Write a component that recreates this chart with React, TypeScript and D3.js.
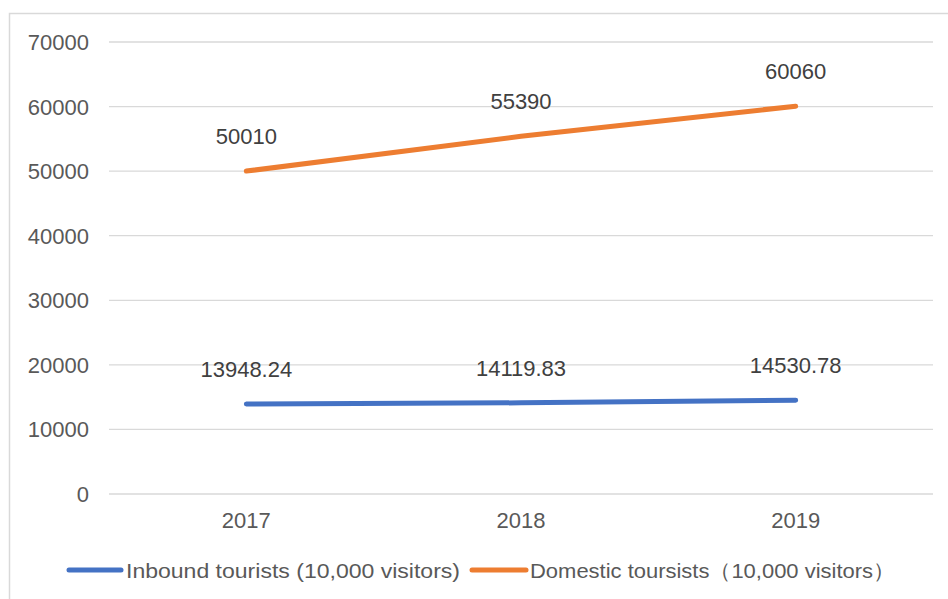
import * as d3 from "d3";
import React from "react";

const years: string[] = ["2017", "2018", "2019"];
const inbound: number[] = [13948.24, 14119.83, 14530.78];
const domestic: number[] = [50010, 55390, 60060];
const yTicks: number[] = [0, 10000, 20000, 30000, 40000, 50000, 60000, 70000];
const seriesNames: string[] = [
	"Inbound tourists (10,000 visitors)",
	"Domestic toursists（10,000 visitors）",
];
const colors: string[] = ["#4472C4", "#ED7D31"];

const App = () => {
	const width: number = 948;
	const height: number = 599;
	const left: number = 109;
	const right: number = 933;
	const top: number = 42;
	const bottom: number = 494;
	const font = "'Liberation Sans', Arial, sans-serif";
	const textColor = "#595959";

	const xScale = d3.scaleBand().domain(years).range([left, right]);
	const yScale = d3.scaleLinear().domain([0, 70000]).range([bottom, top]);
	const cx = (y: string) => (xScale(y) || 0) + xScale.bandwidth() / 2;

	const line = d3
		.line<number>()
		.x((d, i) => cx(years[i]))
		.y((d) => yScale(d));

	const series = [inbound, domestic];

	return (
		<svg
			width={width}
			height={height}
			style={{ position: "absolute", left: 0, top: 0, background: "#fff" }}
			fontFamily={font}
		>
			<rect x={9.5} y={13.5} width={960} height={600} fill="#fff" stroke="#d9d9d9" strokeWidth={1.5} />
			{yTicks.map((t) => (
				<g key={t}>
					<line x1={left} x2={right} y1={yScale(t)} y2={yScale(t)} stroke="#d9d9d9" strokeWidth={1.3} />
					<text x={89} y={yScale(t) + 8} textAnchor="end" fontSize={22} fill={textColor}>
						{t}
					</text>
				</g>
			))}
			{years.map((y) => (
				<text key={y} x={cx(y)} y={528} textAnchor="middle" fontSize={22} fill={textColor}>
					{y}
				</text>
			))}
			{series.map((s, k) => (
				<g key={k}>
					<path d={line(s) || ""} fill="none" stroke={colors[k]} strokeWidth={5} strokeLinecap="round" />
					{s.map((v, i) => (
						<text key={i} x={cx(years[i])} y={yScale(v) - 27} textAnchor="middle" fontSize={22} fill="#404040">
							{v}
						</text>
					))}
				</g>
			))}
			<g>
				<line x1={69} x2={121} y1={570} y2={570} stroke={colors[0]} strokeWidth={5} strokeLinecap="round" />
				<text x={126} y={578} fontSize={21} fill={textColor} textLength={334} lengthAdjust="spacingAndGlyphs">
					{seriesNames[0]}
				</text>
				<line x1={472} x2={526} y1={570} y2={570} stroke={colors[1]} strokeWidth={5} strokeLinecap="round" />
				<text x={530} y={578} fontSize={21} fill={textColor} textLength={365} lengthAdjust="spacingAndGlyphs">
					{seriesNames[1]}
				</text>
			</g>
		</svg>
	);
};

export default App;
